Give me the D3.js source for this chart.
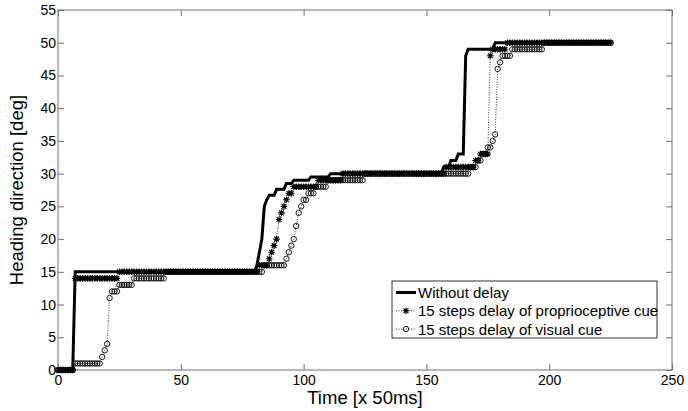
<!DOCTYPE html>
<html>
<head>
<meta charset="utf-8">
<title>Heading direction</title>
<script src="https://d3js.org/d3.v7.min.js"></script>
<style>
  body { margin: 0; background: #fff; }
  text { font-family: "Liberation Sans", Arial, sans-serif; fill: #000; }
</style>
</head>
<body>
<script>
var w = 688, h = 411;
var plotLeft = 58, plotRight = 672, plotTop = 10, plotBottom = 370;

var xTicks = [0, 50, 100, 150, 200, 250];
var yTicks = [0, 5, 10, 15, 20, 25, 30, 35, 40, 45, 50, 55];
var lastStep = 225;

// step series: the step where a new value starts, and that value
var noDelayStart = [0, 7, 81, 82, 83, 84, 85, 86, 89, 93, 96, 103, 111, 157, 160, 163, 166, 167, 178];
var noDelayValue = [0, 15, 16, 18, 20, 25, 26, 26.7, 27.6, 28.5, 29, 29.5, 30, 31, 32, 33, 48, 49, 50];

var propStart = [0, 7, 25, 82, 86, 87, 88, 89, 90, 91, 92, 93, 94, 96, 106, 116, 158, 170, 172, 176, 177, 183];
var propValue = [0, 14, 15, 16, 17, 18, 19, 20, 23, 24, 25, 26, 27, 28, 29, 30, 31, 32, 33, 48, 49, 50];

var visStart = [0, 7, 18, 19, 20, 21, 22, 25, 31, 44, 84, 93, 94, 95, 96, 97, 98, 99, 100, 102, 105, 110, 125,
                168, 171, 173, 175, 177, 178, 179, 180, 181, 185, 198];
var visValue = [0, 1, 2, 3, 4, 11, 12, 13, 14, 15, 16, 17, 18, 19, 20, 22, 24, 25, 26, 27, 28, 29, 30,
                31, 32, 33, 34, 35, 36, 46, 47, 48, 49, 50];

var labels = ["Without delay", "15 steps delay of proprioceptive cue", "15 steps delay of visual cue"];

// hold each value until the next change
function steps(starts, values) {
  var out = [], k = 0;
  for (var t = 0; t <= lastStep; t++) {
    while (k + 1 < starts.length && starts[k + 1] <= t) k++;
    out.push({t: t, v: values[k]});
  }
  return out;
}

var series = [
  {name: labels[0], data: steps(noDelayStart, noDelayValue), width: 3, dash: null, marker: null},
  {name: labels[1], data: steps(propStart, propValue), width: 0.8, dash: "1,1.5", marker: "star"},
  {name: labels[2], data: steps(visStart, visValue), width: 0.8, dash: "1,1.5", marker: "circle"}
];

var svg = d3.select("body").append("svg")
  .attr("width", w)
  .attr("height", h);

var x = d3.scaleLinear().domain([0, 250]).range([plotLeft, plotRight]);
var y = d3.scaleLinear().domain([0, 55]).range([plotBottom, plotTop]);

var starPath = "M-3.3,0H3.3M0,-3.3V3.3M-2.4,-2.4L2.4,2.4M-2.4,2.4L2.4,-2.4";

var line = d3.line().x(function(d) { return x(d.t); }).y(function(d) { return y(d.v); });

// axes box
svg.append("rect")
  .attr("x", plotLeft).attr("y", plotTop)
  .attr("width", plotRight - plotLeft).attr("height", plotBottom - plotTop)
  .attr("fill", "#fff").attr("stroke", "#707070").attr("stroke-width", 1);

function styleAxis(g, showText) {
  g.select(".domain").remove();
  g.selectAll(".tick line").attr("stroke", "#707070");
  if (!showText) g.selectAll(".tick text").remove();
  else g.selectAll(".tick text").attr("font-size", 14).attr("fill", "#000");
}

svg.append("g").attr("transform", "translate(0," + plotBottom + ")")
  .call(d3.axisBottom(x).tickValues(xTicks).tickSizeInner(-6).tickSizeOuter(0).tickPadding(5))
  .call(styleAxis, true);
svg.append("g").attr("transform", "translate(0," + plotTop + ")")
  .call(d3.axisTop(x).tickValues(xTicks).tickSizeInner(-6).tickSizeOuter(0))
  .call(styleAxis, false);
svg.append("g").attr("transform", "translate(" + plotLeft + ",0)")
  .call(d3.axisLeft(y).tickValues(yTicks).tickSizeInner(-6).tickSizeOuter(0).tickPadding(2))
  .call(styleAxis, true);
svg.append("g").attr("transform", "translate(" + plotRight + ",0)")
  .call(d3.axisRight(y).tickValues(yTicks).tickSizeInner(-6).tickSizeOuter(0))
  .call(styleAxis, false);

// series
series.forEach(function(s) {
  svg.append("path")
    .datum(s.data)
    .attr("d", line)
    .attr("fill", "none")
    .attr("stroke", "#000")
    .attr("stroke-width", s.width)
    .attr("stroke-dasharray", s.dash);

  if (s.marker == "star") {
    svg.append("g").selectAll("path")
      .data(s.data).enter().append("path")
      .attr("transform", function(d) { return "translate(" + x(d.t) + "," + y(d.v) + ")"; })
      .attr("d", starPath)
      .attr("stroke", "#000").attr("stroke-width", 1.1).attr("fill", "none");
  } else if (s.marker == "circle") {
    svg.append("g").selectAll("circle")
      .data(s.data).enter().append("circle")
      .attr("cx", function(d) { return x(d.t); })
      .attr("cy", function(d) { return y(d.v); })
      .attr("r", 2.7)
      .attr("stroke", "#000").attr("stroke-width", 0.9).attr("fill", "none");
  }
});

// axis titles
svg.append("text")
  .attr("x", (plotLeft + plotRight) / 2).attr("y", 404)
  .attr("text-anchor", "middle").attr("font-size", 18.5)
  .text("Time [x 50ms]");
svg.append("text")
  .attr("transform", "translate(23," + (plotTop + plotBottom) / 2 + ") rotate(-90)")
  .attr("text-anchor", "middle").attr("font-size", 18.5)
  .text("Heading direction [deg]");

// legend
var legend = svg.append("g");
legend.append("rect")
  .attr("x", 392).attr("y", 281).attr("width", 265).attr("height", 57)
  .attr("fill", "#fff").attr("stroke", "#000").attr("stroke-width", 0.8);

series.forEach(function(s, i) {
  var ly = 292.5 + i * 18.3;
  legend.append("line")
    .attr("x1", 396).attr("x2", 416).attr("y1", ly).attr("y2", ly)
    .attr("stroke", "#000").attr("stroke-width", s.width)
    .attr("stroke-dasharray", s.dash);
  if (s.marker == "star") {
    legend.append("path").attr("transform", "translate(406," + ly + ")")
      .attr("d", starPath).attr("stroke", "#000").attr("stroke-width", 1.1);
  } else if (s.marker == "circle") {
    legend.append("circle").attr("cx", 406).attr("cy", ly).attr("r", 2.7)
      .attr("stroke", "#000").attr("stroke-width", 0.9).attr("fill", "none");
  }
  legend.append("text")
    .attr("x", 418).attr("y", ly).attr("dy", "0.36em")
    .attr("font-size", 15)
    .text(s.name);
});
</script>
</body>
</html>
